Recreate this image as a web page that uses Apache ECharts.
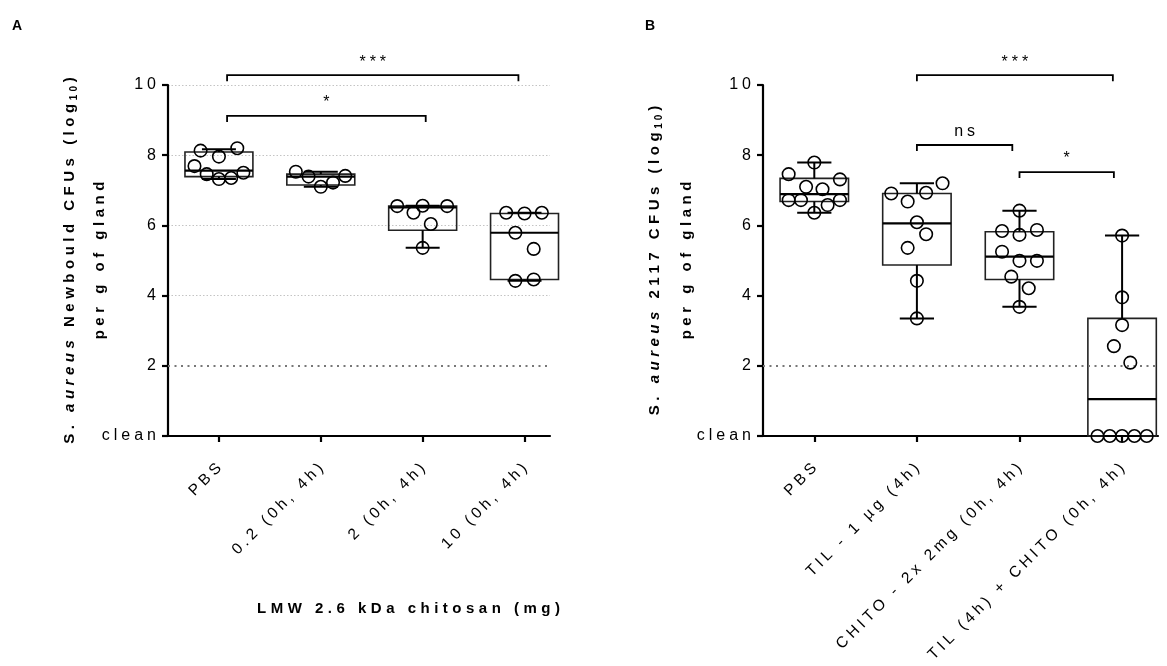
<!DOCTYPE html>
<html><head><meta charset="utf-8">
<script src="https://cdn.jsdelivr.net/npm/echarts@6/dist/echarts.min.js"></script>
<style>html,body{margin:0;padding:0;background:#fff}#c{width:1167px;height:666px}</style>
</head><body><div id="c"></div><script>
// ---------- data ----------
const catsA = ['PBS', '0.2 (0h, 4h)', '2 (0h, 4h)', '10 (0h, 4h)'];
const catsB = ['PBS', 'TIL - 1 µg (4h)', 'CHITO - 2x 2mg (0h, 4h)', 'TIL (4h) + CHITO (0h, 4h)'];
const yTickLabels = ['clean', '2', '4', '6', '8', '10'];
const xTitleA = 'LMW 2.6 kDa chitosan (mg)';

// panel A points (log10 CFU) and horizontal spread (category units)
const valsA_PBS = [8.13, 7.96, 8.20, 7.69, 7.46, 7.32, 7.35, 7.50];
const offA_PBS  = [-0.18, 0, 0.18, -0.24, -0.12, 0, 0.12, 0.24];
const valsA_02  = [7.53, 7.39, 7.10, 7.22, 7.41];
const offA_02   = [-0.245, -0.12, 0, 0.12, 0.24];
const valsA_2   = [6.55, 6.36, 6.56, 6.55, 6.04, 5.36];
const offA_2    = [-0.25, -0.09, 0, 0.24, 0.08, 0];
const valsA_10  = [6.36, 6.34, 6.36, 5.79, 5.33, 4.42, 4.46];
const offA_10   = [-0.18, 0, 0.17, -0.09, 0.09, -0.09, 0.09];

// panel B points
const valsB_PBS = [7.79, 7.46, 7.31, 7.10, 7.03, 6.72, 6.72, 6.72, 6.58, 6.36];
const offB_PBS  = [0, -0.25, 0.25, -0.08, 0.08, -0.25, -0.13, 0.25, 0.13, 0];
const valsB_TIL = [6.91, 6.68, 6.93, 7.20, 6.09, 5.75, 5.36, 4.42, 3.35];
const offB_TIL  = [-0.25, -0.09, 0.09, 0.25, 0, 0.09, -0.09, 0, 0];
const valsB_CH  = [6.42, 5.84, 5.73, 5.87, 5.25, 4.99, 4.99, 4.54, 4.21, 3.68];
const offB_CH   = [0, -0.17, 0, 0.17, -0.17, 0, 0.17, -0.08, 0.09, 0];
const valsB_TC  = [5.71, 3.95, 3.16, 2.56, 2.09, 0, 0, 0, 0, 0];
const offB_TC   = [0, 0, 0, -0.08, 0.08, -0.24, -0.12, 0, 0.12, 0.24];

// box stats: [min, Q1, median, Q3, max]
const boxA = [[7.32, 7.39, 7.56, 8.09, 8.17], [7.10, 7.15, 7.39, 7.46, 7.53], [5.36, 5.86, 6.51, 6.55, 6.56], [4.42, 4.46, 5.79, 6.34, 6.36]];
const boxB = [[6.36, 6.68, 6.89, 7.34, 7.79], [3.35, 4.87, 6.06, 6.91, 7.20], [3.68, 4.46, 5.11, 5.82, 6.42], [0, 0, 1.05, 3.35, 5.71]];

// significance brackets: [from, to, level, label]
const bracketsA = [[1.08, 3.94, 10.28, '***'], [1.08, 3.03, 9.12, '*']];
const bracketsB = [[2.0, 3.91, 10.28, '***'], [2.0, 2.93, 8.29, 'ns'], [3.0, 3.92, 7.52, '*']];
const limitOfDetection = 2;

// ---------- letter spacing (Prism-like wide tracking) ----------
function lsFor(font) {
  const m = /(\d+(?:\.\d+)?)px/.exec(font || '');
  const s = m ? parseFloat(m[1]) : 12;
  return /bold|700|800|900/.test(font) ? s * 0.3 : s * 0.25;
}
const mctx = document.createElement('canvas').getContext('2d');
try {
  echarts.setPlatformAPI({
    measureText(text, font) {
      mctx.font = font || '12px sans-serif';
      const w = mctx.measureText(text).width;
      return { width: w + lsFor(mctx.font) * String(text).length };
    }
  });
} catch (e) {}
(function () {
  const P = CanvasRenderingContext2D.prototype, of = P.fillText;
  P.fillText = function (t, x, y, mw) {
    const ls = lsFor(this.font), old = this.letterSpacing;
    this.letterSpacing = ls + 'px';
    if (this.textAlign === 'center') x += ls / 2;
    else if (this.textAlign === 'right' || this.textAlign === 'end') x += ls;
    if (mw === undefined) of.call(this, t, x, y); else of.call(this, t, x, y, mw);
    this.letterSpacing = old;
  };
})();

// ---------- chart ----------
const F = '"Liberation Sans", Arial, sans-serif';
const chart = echarts.init(document.getElementById('c'), null, { renderer: 'canvas' });

function pts(vals, offs, cat) { return vals.map((v, i) => [cat + offs[i], v]); }

function scatter(gi, data) {
  return {
    type: 'scatter', xAxisIndex: gi, yAxisIndex: gi, data, symbol: 'circle', symbolSize: 12.5, z: 5,
    itemStyle: { color: 'rgba(255,255,255,0)', borderColor: '#000', borderWidth: 1.6, opacity: 1 },
    silent: true
  };
}

function boxSeries(gi, stats) {
  return {
    type: 'custom', xAxisIndex: gi, yAxisIndex: gi, z: 4, silent: true,
    data: stats.map((s, i) => [i + 1].concat(s)),
    encode: { x: 0, y: [1, 2, 3, 4, 5] },
    renderItem(params, api) {
      const x = api.value(0);
      const pMin = api.coord([x, api.value(1)]), pQ1 = api.coord([x, api.value(2)]);
      const pMed = api.coord([x, api.value(3)]), pQ3 = api.coord([x, api.value(4)]);
      const pMax = api.coord([x, api.value(5)]);
      const w = api.size([1, 0])[0] * 0.667, cw = w / 2, cx = pQ3[0];
      const ln = { stroke: '#000', lineWidth: 2 };
      return {
        type: 'group', children: [
          { type: 'rect', shape: { x: cx - w / 2, y: pQ3[1], width: w, height: pQ1[1] - pQ3[1] }, style: { fill: 'none', stroke: '#222', lineWidth: 1.6 } },
          { type: 'line', shape: { x1: cx - w / 2, y1: pMed[1], x2: cx + w / 2, y2: pMed[1] }, style: { stroke: '#000', lineWidth: 2.2 } },
          { type: 'line', shape: { x1: cx, y1: pQ3[1], x2: cx, y2: pMax[1] }, style: ln },
          { type: 'line', shape: { x1: cx, y1: pQ1[1], x2: cx, y2: pMin[1] }, style: ln },
          { type: 'line', shape: { x1: cx - cw / 2, y1: pMax[1], x2: cx + cw / 2, y2: pMax[1] }, style: ln },
          { type: 'line', shape: { x1: cx - cw / 2, y1: pMin[1], x2: cx + cw / 2, y2: pMin[1] }, style: ln }
        ]
      };
    }
  };
}

function bracketSeries(gi, br) {
  return {
    type: 'custom', xAxisIndex: gi, yAxisIndex: gi, clip: false, z: 6, silent: true,
    data: br.map(b => [b[0], b[1], b[2]]),
    encode: { x: [0, 1], y: 2 },
    renderItem(params, api) {
      const p1 = api.coord([api.value(0), api.value(2)]);
      const p2 = api.coord([api.value(1), api.value(2)]);
      const lbl = br[params.dataIndex][3];
      return {
        type: 'group', children: [
          { type: 'polyline', shape: { points: [[p1[0], p1[1] + 6], [p1[0], p1[1]], [p2[0], p2[1]], [p2[0], p2[1] + 6]] }, style: { stroke: '#000', lineWidth: 1.8, fill: null } },
          { type: 'text', x: (p1[0] + p2[0]) / 2, y: p1[1] - 3, style: { text: lbl, align: 'center', verticalAlign: 'bottom', font: '16px ' + F, fill: '#000' } }
        ]
      };
    }
  };
}

function lodSeries(gi) {
  return {
    type: 'line', xAxisIndex: gi, yAxisIndex: gi, data: [], silent: true,
    markLine: {
      symbol: ['none', 'none'], silent: true, label: { show: false }, animation: false,
      lineStyle: { color: '#777', type: [2, 4.5], width: 2 },
      data: [{ yAxis: limitOfDetection }]
    }
  };
}

function titleRich(lh) {
  return {
    b: { fontFamily: F, fontWeight: 'bold', fontSize: 15, color: '#000', lineHeight: lh },
    bi: { fontFamily: F, fontWeight: 'bold', fontStyle: 'italic', fontSize: 15, color: '#000', lineHeight: lh },
    s: { fontFamily: F, fontWeight: 'bold', fontSize: 10, color: '#000', padding: [8, 0, 0, 0] }
  };
}

function yAxis(gi, name, gap, lh, grid) {
  return {
    type: 'value', gridIndex: gi, min: 0, max: 10, interval: 2,
    axisLine: { show: true, lineStyle: { color: '#000', width: 2.2 } },
    axisTick: { show: true, length: 6, lineStyle: { color: '#000', width: 2.2 } },
    axisLabel: { fontFamily: F, fontSize: 16, color: '#000', margin: 12, formatter: v => yTickLabels[v / 2] },
    splitLine: grid ? { show: true, lineStyle: { color: ['rgba(0,0,0,0)', 'rgba(0,0,0,0)', '#c4c4c4', '#c4c4c4', '#c4c4c4', '#c4c4c4'], type: [1.5, 2], width: 1 } } : { show: false },
    name, nameLocation: 'middle', nameRotate: 90, nameGap: gap, nameMoveOverlap: false,
    nameTextStyle: { rich: titleRich(lh), align: 'center' }
  };
}

function xAxis(gi, cats, max) {
  return {
    type: 'value', gridIndex: gi, min: 0.5, max,
    axisLine: { onZero: false, lineStyle: { color: '#000', width: 2.2 } },
    axisTick: { show: true, customValues: [1, 2, 3, 4], length: 6, lineStyle: { color: '#000', width: 2.2 } },
    axisLabel: { customValues: [1, 2, 3, 4], formatter: v => cats[Math.round(v) - 1], rotate: 45, fontFamily: F, fontSize: 15.5, color: '#000', margin: 30, hideOverlap: false },
    splitLine: { show: false }
  };
}

const option = {
  animation: false,
  backgroundColor: '#fff',
  title: [
    { text: 'A', left: 7, top: 12, textStyle: { fontFamily: F, fontWeight: 'bold', fontSize: 14, color: '#000' } },
    { text: 'B', left: 640, top: 12, textStyle: { fontFamily: F, fontWeight: 'bold', fontSize: 14, color: '#000' } },
    { text: xTitleA, left: 252, top: 594, textStyle: { fontFamily: F, fontWeight: 'bold', fontSize: 15, color: '#000' } }
  ],
  grid: [
    { left: 168, top: 85, width: 382, height: 351, containLabel: false, outerBoundsMode: 'none' },
    { left: 763, top: 85, width: 395, height: 351, containLabel: false, outerBoundsMode: 'none' }
  ],
  xAxis: [xAxis(0, catsA, 4.25), xAxis(1, catsB, 4.35)],
  yAxis: [
    yAxis(0, '{b|S. }{bi|aureus}{b| Newbould CFUs (log}{s|10}{b|)}\n{b|per g of gland}', 53, 30, true),
    yAxis(1, '{b|S. }{bi|aureus}{b| 2117 CFUs (log}{s|10}{b|)}\n{b|per g of gland}', 60, 32, false)
  ],
  series: [
    lodSeries(0), lodSeries(1),
    boxSeries(0, boxA), boxSeries(1, boxB),
    scatter(0, pts(valsA_PBS, offA_PBS, 1)), scatter(0, pts(valsA_02, offA_02, 2)),
    scatter(0, pts(valsA_2, offA_2, 3)), scatter(0, pts(valsA_10, offA_10, 4)),
    scatter(1, pts(valsB_PBS, offB_PBS, 1)), scatter(1, pts(valsB_TIL, offB_TIL, 2)),
    scatter(1, pts(valsB_CH, offB_CH, 3)), scatter(1, pts(valsB_TC, offB_TC, 4)),
    bracketSeries(0, bracketsA), bracketSeries(1, bracketsB)
  ]
};
chart.setOption(option);
</script></body></html>
